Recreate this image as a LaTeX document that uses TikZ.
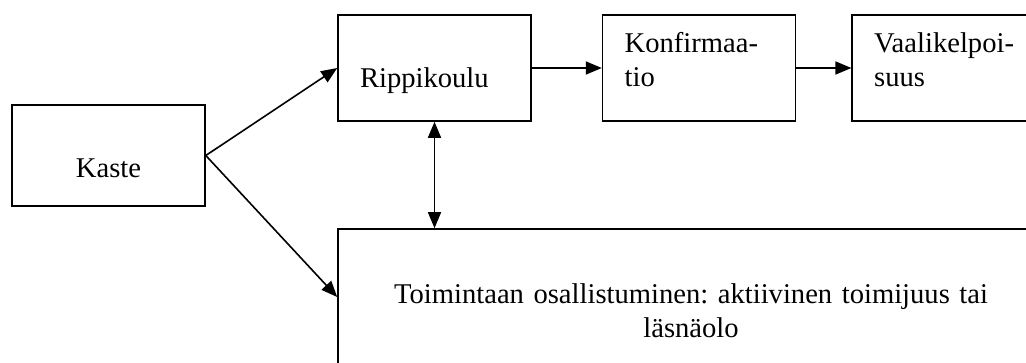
\documentclass[tikz,border=0pt]{standalone}
\usepackage{fontspec}
\setmainfont{Liberation Serif}
\usetikzlibrary{arrows.meta,positioning}
\frenchspacing
\tikzset
{
    phasebox/.style = {rectangle, draw=black, inner xsep=11pt, inner ysep=0pt, text width=74.5pt, align=left, font=\fontsize{14.3}{17}\selectfont},
    startbox/.style = {rectangle, draw=black, inner ysep=0pt, minimum width=96.5pt, align=center, font=\fontsize{14.3}{17}\selectfont},
    widebox/.style  = {rectangle, draw=black, inner xsep=11pt, inner ysep=0pt, text width=331pt, align=center, font=\fontsize{14.3}{17}\selectfont}
}

\begin{document}
\begin{tikzpicture}[->,>={Triangle[length=8pt,width=6.5pt]}, x=0.5pt, y=-0.5pt, line width=0.8pt]
    \clip (0,0) rectangle (1026,363);
    \node [startbox, text height=36pt, text depth=14.5pt] (kaste) at (108.5,155.5) {Kaste};
    \node [phasebox, text height=36.5pt, text depth=16.5pt] (ripp) at (434.5,68) {Rippikoulu};
    \node [phasebox, text height=19pt, text depth=34pt, right=35pt of ripp] (konf) {Konfirmaa-\\tio};
    \node [phasebox, text height=19pt, text depth=34pt, right=27.5pt of konf] (vaali) {Vaalikelpoi-\\suus};
    \node [widebox, text height=37pt, text depth=31pt] (toim) at (691,297) {Toimintaan osallistuminen: aktiivinen toimijuus tai\\läsnäolo};

    \draw (kaste.east) -- (ripp.west);
    \draw (kaste.east) -- (toim.west);
    \draw (ripp.east) -- (konf.west);
    \draw (konf.east) -- (vaali.west);
    \draw [<->] (ripp.south) -- (ripp.south |- toim.north);
\end{tikzpicture}
\end{document}
